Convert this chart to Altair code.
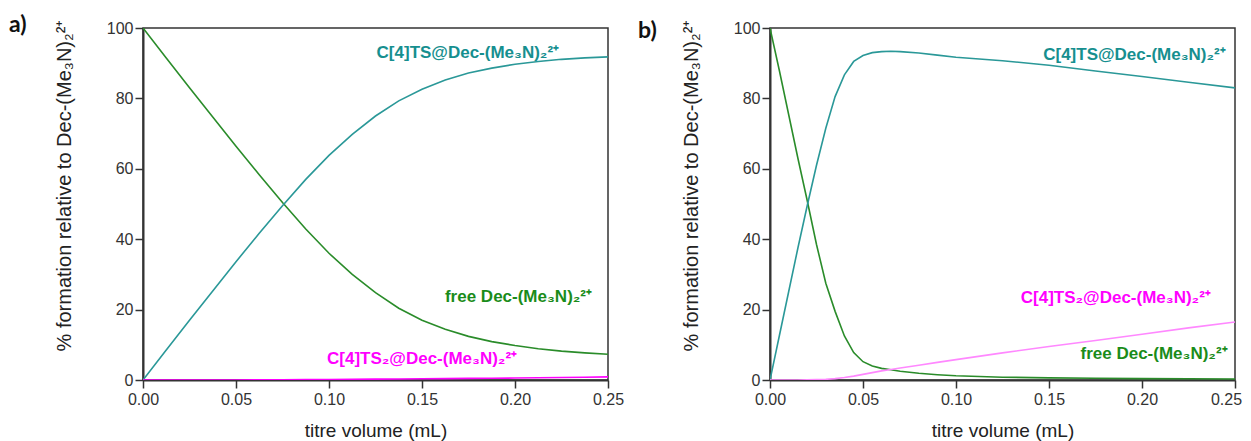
import altair as alt
import pandas as pd

# ---------------- data ----------------
species = ["free", "host", "host2"]

# panel a
t_a = [0, 0.0125, 0.025, 0.0375, 0.05, 0.0625, 0.075, 0.0875, 0.1, 0.1125, 0.125,
       0.1375, 0.15, 0.1625, 0.175, 0.1875, 0.2, 0.2125, 0.225, 0.2375, 0.25]
host_a = [0, 8.5, 17, 25.3, 33.6, 41.7, 49.5, 57, 63.8, 69.8, 75,
          79.3, 82.6, 85.2, 87.2, 88.6, 89.7, 90.5, 91.1, 91.5, 91.8]
free_a = [100, 91.5, 83, 74.7, 66.4, 58.3, 50.4, 42.9, 36, 30, 24.8,
          20.4, 17, 14.4, 12.4, 10.9, 9.8, 8.9, 8.2, 7.7, 7.3]
host2_a = [0, 0, 0, 0, 0.02, 0.04, 0.06, 0.1, 0.15, 0.2, 0.25,
           0.3, 0.35, 0.4, 0.45, 0.5, 0.55, 0.62, 0.7, 0.8, 0.9]

# panel b
t_b = [0, 0.005, 0.01, 0.015, 0.02, 0.025, 0.03, 0.035, 0.04, 0.045, 0.05, 0.055,
       0.06, 0.065, 0.07, 0.08, 0.09, 0.1, 0.125, 0.15, 0.175, 0.2, 0.225, 0.25]
host_b = [0, 12.5, 25, 37.5, 49.5, 61, 71.5, 80.5, 86.7, 90.5, 92.2, 93,
          93.3, 93.4, 93.3, 92.9, 92.3, 91.7, 90.7, 89.4, 87.8, 86.2, 84.6, 83.0]
free_b = [100, 88, 75.5, 63, 51, 38.5, 27.5, 19.5, 12.5, 7.8, 5.2, 4.0,
          3.3, 2.9, 2.5, 1.9, 1.5, 1.2, 0.8, 0.6, 0.5, 0.4, 0.35, 0.3]
host2_b = [0, 0, 0, 0, 0.05, 0.1, 0.2, 0.4, 0.7, 1.1, 1.6, 2.1,
           2.6, 3.0, 3.4, 4.2, 5.0, 5.8, 7.7, 9.5, 11.2, 13.0, 14.8, 16.5]

label_text = {
    "host": "C[4]TS@Dec-(Me₃N)₂²⁺",
    "free": "free Dec-(Me₃N)₂²⁺",
    "host2": "C[4]TS₂@Dec-(Me₃N)₂²⁺",
}
# label anchor (right end, baseline) in data units
lab_a_t = {"host": 0.2237, "free": 0.2414, "host2": 0.2011}
lab_a_v = {"host": 91.5, "free": 22.2, "host2": 4.5}
lab_b_t = {"host": 0.245, "free": 0.246, "host2": 0.237}
lab_b_v = {"host": 90.8, "free": 6.0, "host2": 22.0}

x_ticks = [0, 0.05, 0.10, 0.15, 0.20, 0.25]
y_ticks = [0, 20, 40, 60, 80, 100]
x_title = "titre volume (mL)"
y_title = "% formation relative to Dec-(Me₃N)₂²⁺"

FONT = "Liberation Sans"
label_colors = ["#1a8c1a", "#168f8f", "#ff00ff"]


def panel(t, free, host, host2, lab_t, lab_v, line_colors, tag, tag_x, tag_y, last_shift):
    df = pd.DataFrame({
        "t": t * 3,
        "v": free + host + host2,
        "s": ["free"] * len(t) + ["host"] * len(t) + ["host2"] * len(t),
    })
    labs = pd.DataFrame({
        "t": [lab_t[s] for s in species],
        "v": [lab_v[s] for s in species],
        "s": species,
        "txt": [label_text[s] for s in species],
    })
    xs = alt.Scale(domain=[0, 0.25], nice=False, zero=False)
    ys = alt.Scale(domain=[0, 100], nice=False)
    xax = alt.Axis(values=x_ticks, format=".2f", title=x_title, grid=False,
                   labelFontSize=16, titleFontSize=19, labelFont=FONT, titleFont=FONT,
                   labelColor="#333333", titleColor="#222222", titleFontWeight="normal",
                   tickSize=8, tickWidth=1.5, tickColor="#333333",
                   domainColor="#333333", domainWidth=2, labelPadding=3, titlePadding=14,
                   labelFlush=False,
                   labelOffset={"condition": {"test": "datum.value >= 0.249", "value": last_shift},
                                "value": 0})
    yax = alt.Axis(values=y_ticks, title=y_title, grid=False,
                   labelFontSize=16, titleFontSize=20, labelFont=FONT, titleFont=FONT,
                   labelColor="#333333", titleColor="#222222", titleFontWeight="normal",
                   tickSize=8, tickWidth=1.5, tickColor="#333333",
                   domainColor="#333333", domainWidth=2, labelPadding=2, titlePadding=32,
                   titleY=157, labelFlush=False)
    lines = alt.Chart(df).mark_line(strokeWidth=1.6, clip=True).encode(
        x=alt.X("t:Q", scale=xs, axis=xax),
        y=alt.Y("v:Q", scale=ys, axis=yax),
        color=alt.Color("s:N", scale=alt.Scale(domain=species, range=line_colors), legend=None),
        detail="s:N",
    )
    texts = alt.Chart(labs).mark_text(align="right", baseline="alphabetic", font=FONT,
                                      fontWeight="bold", fontSize=17).encode(
        x=alt.X("t:Q", scale=xs),
        y=alt.Y("v:Q", scale=ys),
        text="txt:N",
        color=alt.Color("s:N", scale=alt.Scale(domain=species, range=label_colors), legend=None),
    )
    tagc = alt.Chart(pd.DataFrame({"lab": [tag]})).mark_text(
        align="left", baseline="alphabetic", font="Lato", fontWeight="bold",
        fontSize=23, color="#111111").encode(
        x=alt.value(tag_x), y=alt.value(tag_y), text="lab:N")
    return alt.layer(lines, texts, tagc).resolve_scale(color="independent").properties(
        width=465, height=352)


pa = panel(t_a, free_a, host_a, host2_a, lab_a_t, lab_a_v,
           ["#2a8c2a", "#2a9898", "#ff00ff"], "a)", -134, 4, 0)
pb = panel(t_b, free_b, host_b, host2_b, lab_b_t, lab_b_v,
           ["#2a8c2a", "#2a9898", "#ff88ff"], "b)", -132, 10, -9)

chart = alt.hconcat(pa, pb, spacing=12).properties(
    padding={"left": 0, "top": 5, "right": 0, "bottom": 0}
).configure_view(stroke="#333333", strokeWidth=1.5)

chart.save("out.html", embed_options={"renderer": "svg", "actions": False})
